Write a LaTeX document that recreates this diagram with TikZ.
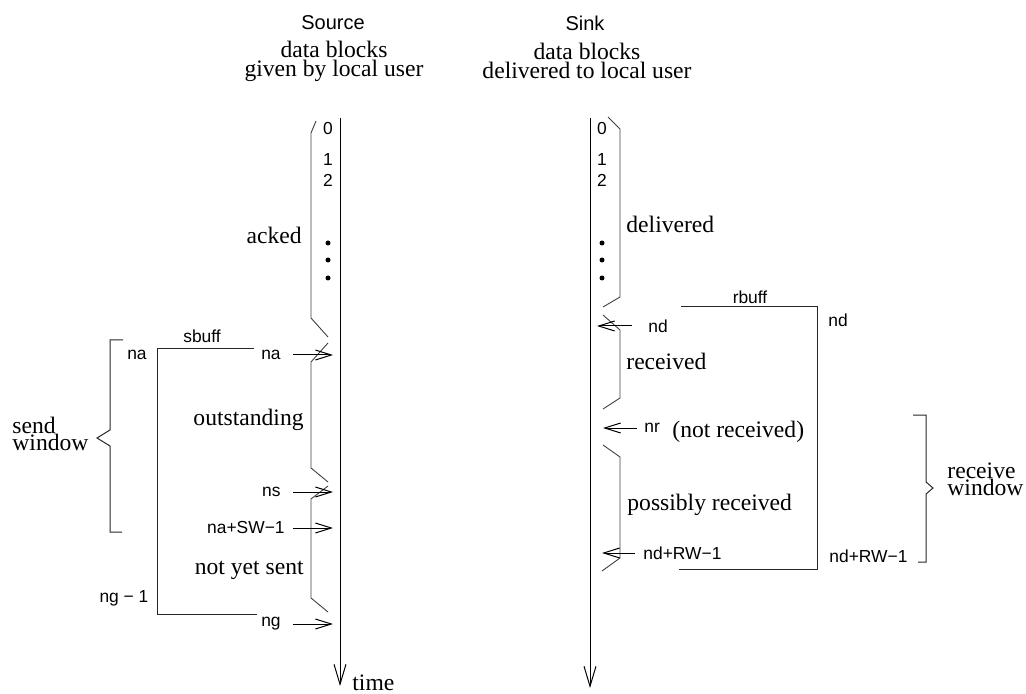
\documentclass[tikz,border=0pt]{standalone}
\usepackage{fontspec}
\setmainfont{Liberation Serif}
\setsansfont{Liberation Sans}
\usetikzlibrary{arrows.meta, positioning}

\begin{document}
\begin{tikzpicture}[x=0.5pt, y=-0.5pt,
    lab/.style={font=\sffamily\fontsize{8.7}{10}\selectfont, inner sep=0pt},
    head/.style={font=\sffamily\fontsize{10}{12}\selectfont, inner sep=0pt},
    txt/.style={font=\rmfamily\fontsize{11.8}{8.6}\selectfont, inner sep=0pt, align=left},
    blocks/.style={txt, align=center, font=\rmfamily\fontsize{11.8}{9.6}\selectfont},
    timeline/.style={-{Straight Barb[length=10pt, width=6pt]}, line width=0.5pt},
    ptr/.style={-{Straight Barb[length=8pt, width=5pt]}, line width=0.5pt, shorten <=5pt},
    brk/.style={line width=0.45pt, black!75},
    buf/.style={line width=0.5pt, black!85}
]
\useasboundingbox (0,0) rectangle (1026,694);

% headings
\node[head] (src) at (333,23) {Source};
\node[head] (snk) at (585,23) {Sink};
\node[blocks] (srcdata) at (334,61) {data blocks\\given by local user};
\node[blocks] (snkdata) at (587,61) {data blocks\\delivered to local user};

% time lines
\coordinate (srctop) at (340,118);
\coordinate (srcbot) at (340,686);
\coordinate (snktop) at (590,118);
\coordinate (snkbot) at (590,688);
\draw[timeline] (srctop) -- (srcbot);
\draw[timeline] (snktop) -- (snkbot);
\node[txt, anchor=west] (time) at (352,683) {time};

% block numbers
\foreach \n/\y in {0/129, 1/160, 2/180} {
  \node[lab] (sd\n) at (328,\y) {\n};
  \node[lab] (kd\n) at (602,\y) {\n};
}
\foreach \y in {243,260,278} {
  \fill (328,\y) circle (1.25pt);
  \fill (602,\y) circle (1.25pt);
}

% ranges on the source side
\draw[brk] (316,121) -- (311,133) -- (311,318) -- (328,337);
\draw[brk] (328,343) -- (311,362) -- (311,468) -- (328,482);
\draw[brk] (328,486) -- (311,499) -- (311,598) -- (328,612);
\node[txt, anchor=east] (acked) at (302,235) {acked};
\node[txt, anchor=east] (outst) at (304,420) {outstanding};
\node[txt, anchor=east] (notsent) at (304,570) {not yet sent};

% ranges on the sink side
\draw[brk] (608,117) -- (620,129) -- (620,297) -- (603,307);
\draw[brk] (603,315) -- (620,330) -- (620,398) -- (603,409);
\draw[brk] (603,445) -- (620,457) -- (620,558) -- (602,571);
\node[txt, anchor=west] (deliv) at (626,224) {delivered};
\node[txt, anchor=west] (recv) at (626,361) {received};
\node[txt, anchor=west] (possrecv) at (627,505) {possibly received};

% source pointers
\coordinate (tna) at (333,355);
\coordinate (tns) at (333,492);
\coordinate (tsw) at (333,528);
\coordinate (tng) at (333,624);
\node[lab, anchor=east] (na) at (281,355) {na};
\node[lab, anchor=east] (ns) at (281,492) {ns};
\node[lab, anchor=east] (nasw) at (285,528) {na+SW−1};
\node[lab, anchor=east] (ng) at (281,624) {ng};
\draw[ptr, shorten <=6pt] (na) -- (tna);
\draw[ptr, shorten <=6pt] (ns) -- (tns);
\draw[ptr, shorten <=4pt] (nasw) -- (tsw);
\draw[ptr, shorten <=6pt] (ng) -- (tng);

% sink pointers
\coordinate (tnd) at (597,326);
\coordinate (tnr) at (603,428);
\coordinate (trw) at (602,553);
\node[lab, anchor=west] (nd) at (648,326) {nd};
\node[lab, anchor=west] (nr) at (644,428) {nr};
\node[txt, anchor=west] (nrnote) at (672,432) {(not received)};
\node[lab, anchor=west] (ndrw) at (643,553) {nd+RW−1};
\draw[ptr, shorten <=8pt] (nd) -- (tnd);
\draw[ptr, shorten <=3.5pt] (nr) -- (tnr);
\draw[ptr, shorten <=4pt] (ndrw) -- (trw);

% send buffer and window
\draw[buf] (254,349) -- (157,349) -- (157,614) -- (257,614);
\node[lab] (sbuff) at (202,336) {sbuff};
\node[lab] (nal) at (137,355) {na};
\node[lab] (ngl) at (124,598) {ng − 1};
\draw[buf] (123,340) -- (110,340) -- (110,430) -- (97,438) -- (110,446) -- (110,532) -- (122,532);
\node[txt, anchor=west] (sendwin) at (12,434) {send\\window};

% receive buffer and window
\draw[buf] (681,307) -- (817,307) -- (817,569) -- (679,569);
\node[lab] (rbuff) at (750,297) {rbuff};
\node[lab] (ndr) at (838,320) {nd};
\node[lab, anchor=west] (ndrwr) at (829,556) {nd+RW−1};
\draw[buf] (913,415) -- (926,415) -- (926,482) -- (933,488) -- (926,494) -- (926,562) -- (918,562);
\node[txt, anchor=west] (recvwin) at (947,479) {receive\\window};
\end{tikzpicture}
\end{document}
